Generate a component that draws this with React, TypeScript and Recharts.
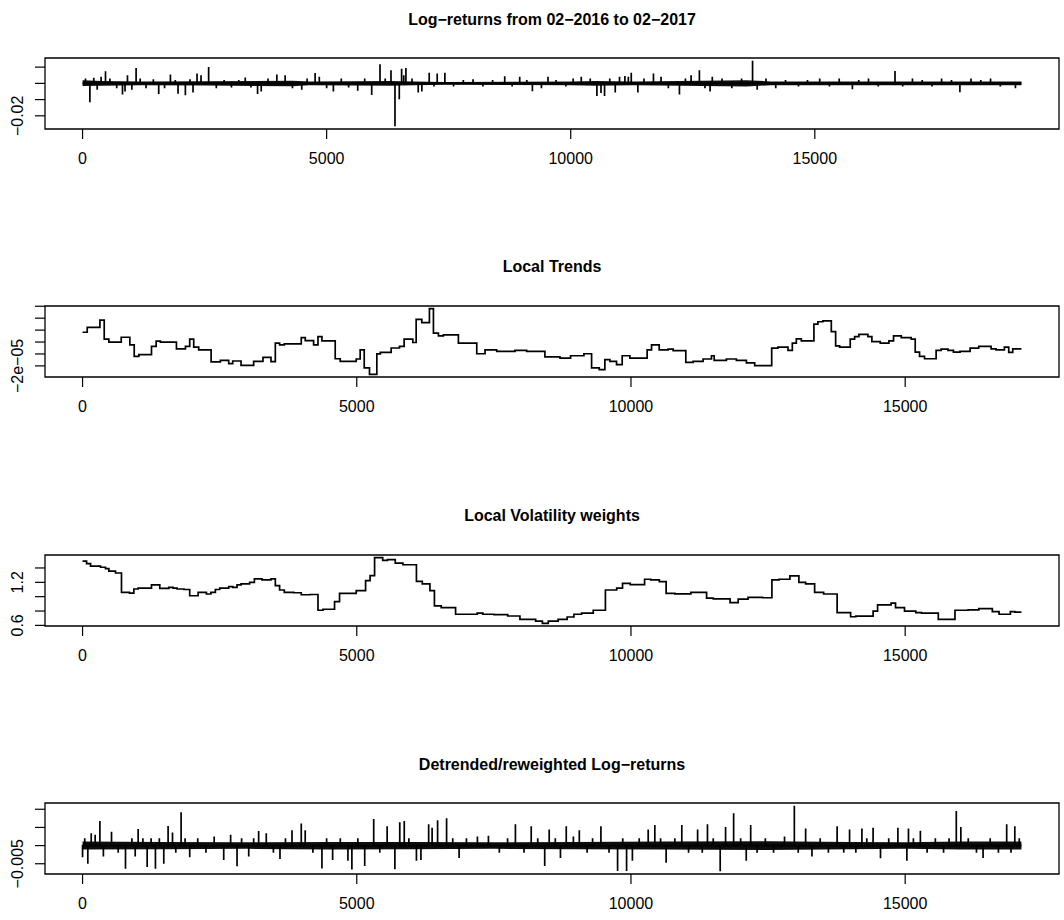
import React from 'react';
import { ComposedChart, Line, Area, XAxis, YAxis, ReferenceArea } from 'recharts';

// ---------------- data ----------------
const xTicks = [0, 5000, 10000, 15000];
const nReturns = 19233;
const nLocal = 17120;

const titles = [
  'Log\u2212returns from 02\u22122016 to 02\u22122017',
  'Local Trends',
  'Local Volatility weights',
  'Detrended/reweighted Log\u2212returns',
];

// Panel 1: log-returns, spikes
const retSpikeX = [60, 150, 230, 300, 380, 470, 560, 700, 818, 870, 920, 1010, 1097, 1180, 1300, 1450, 1560, 1680, 1800, 1900, 1956, 2106, 2200, 2263, 2345, 2427, 2583, 2740, 2900, 3050, 3200, 3333, 3450, 3585, 3660, 3800, 3980, 4150, 4300, 4490, 4600, 4764, 4850, 5000, 5138, 5300, 5450, 5637, 5780, 5923, 6093, 6200, 6318, 6400, 6488, 6536, 6580, 6624, 6750, 6876, 6950, 7101, 7200, 7265, 7422, 7600, 7800, 8000, 8200, 8400, 8648, 8800, 8955, 9100, 9215, 9400, 9534, 9700, 9900, 10050, 10216, 10400, 10536, 10620, 10693, 10800, 10912, 11000, 11110, 11180, 11240, 11375, 11500, 11695, 11850, 12000, 12227, 12350, 12466, 12636, 12750, 12855, 12900, 13100, 13300, 13500, 13725, 13820, 14000, 14200, 14400, 14666, 14850, 15100, 15300, 15500, 15770, 15900, 16100, 16300, 16643, 16800, 17000, 17200, 17400, 17597, 17800, 17972, 18200, 18400, 18600, 18800, 19110];
const retSpikeY = [0.003, -0.0117, 0.0035, -0.004, 0.004, 0.0074, 0.003, -0.003, -0.0068, -0.005, 0.005, -0.004, 0.0095, 0.003, -0.003, 0.0025, -0.0066, -0.003, 0.0054, 0.002, -0.0064, -0.0074, 0.0025, -0.0056, 0.006, 0.005, 0.01, -0.003, 0.002, -0.0025, 0.002, 0.0036, -0.0025, -0.0066, -0.005, 0.003, 0.0054, 0.005, -0.003, -0.004, 0.003, 0.0064, 0.004, -0.003, -0.005, 0.003, -0.0025, -0.0045, 0.003, -0.0072, 0.0117, 0.003, 0.008, -0.0265, -0.0098, 0.009, 0.005, 0.0095, 0.003, -0.0057, -0.005, 0.0066, -0.002, 0.006, 0.0066, -0.002, 0.002, 0.0025, -0.002, 0.002, 0.0044, -0.002, 0.004, 0.002, -0.0048, -0.003, 0.004, 0.002, -0.002, 0.003, 0.004, 0.003, -0.0078, -0.006, -0.0078, 0.003, -0.0056, 0.004, 0.0045, 0.004, 0.0066, -0.0057, 0.003, 0.006, 0.004, -0.003, -0.0068, 0.003, 0.005, 0.008, -0.003, -0.005, 0.004, 0.003, -0.003, 0.003, 0.014, -0.004, 0.003, -0.003, 0.002, -0.002, 0.002, 0.003, -0.002, 0.003, -0.0037, 0.002, 0.003, -0.002, 0.0076, -0.002, 0.003, 0.002, -0.002, 0.003, 0.002, -0.0055, 0.003, 0.002, 0.003, -0.002, -0.003];
const retBandX = [0, 400, 1200, 2500, 4300, 4650, 6300, 6800, 7400, 10000, 10500, 11300, 13600, 14100, 16500];
const retBandLo = [-0.0016, -0.0014, -0.0012, -0.0013, -0.0018, -0.0012, -0.0015, -0.0012, -0.0009, -0.0012, -0.0014, -0.0012, -0.0019, -0.0012, -0.0011];
const retBandHi = [0.0019, 0.0014, 0.0012, 0.0013, 0.0016, 0.0012, 0.0015, 0.0012, 0.0009, 0.0012, 0.0014, 0.0012, 0.0019, 0.0012, 0.0011];
const retTicks = [-0.02, -0.01, 0, 0.01];
const retTickLabels = ['\u22120.02', '', '', ''];

// Panel 2: local trends (step levels)
const trendX = [0, 85, 316, 395, 480, 705, 862, 942, 1026, 1257, 1342, 1420, 1712, 1876, 1954, 2027, 2118, 2344, 2513, 2665, 2738, 2890, 3120, 3290, 3436, 3515, 3593, 3679, 3988, 4061, 4213, 4293, 4365, 4607, 4698, 4990, 5062, 5136, 5232, 5366, 5430, 5627, 5779, 5864, 6022, 6083, 6186, 6325, 6398, 6489, 6580, 6853, 7188, 7339, 7552, 7885, 8098, 8431, 8705, 8899, 9142, 9282, 9421, 9524, 9616, 9737, 9840, 9980, 10295, 10375, 10514, 10678, 10769, 11000, 11133, 11315, 11468, 11517, 11740, 11922, 12105, 12256, 12566, 12680, 12863, 12942, 13015, 13106, 13336, 13409, 13500, 13653, 13732, 13804, 13998, 14078, 14156, 14320, 14393, 14546, 14703, 14788, 14928, 15110, 15183, 15262, 15353, 15564, 15656, 15780, 15880, 16000, 16184, 16341, 16567, 16658, 16809, 16888, 16961];
const trendY = [0.82e-5, 1.23e-5, 1.84e-5, 0.24e-5, 0.0, 0.4e-5, -0.23e-5, -1.2e-5, -1.06e-5, -0.37e-5, 0.07e-5, 0.0, -0.57e-5, -0.37e-5, 0.24e-5, -0.43e-5, -0.65e-5, -1.67e-5, -1.54e-5, -1.81e-5, -1.59e-5, -1.95e-5, -1.62e-5, -1.29e-5, -1.64e-5, -0.09e-5, -0.23e-5, -0.15e-5, 0.37e-5, 0.12e-5, -0.23e-5, 0.45e-5, 0.1e-5, -1.4e-5, -1.62e-5, -1.42e-5, -0.65e-5, -2.17e-5, -2.71e-5, -1.0e-5, -0.87e-5, -0.5e-5, -0.37e-5, 0.24e-5, -0.04e-5, 1.9e-5, 1.62e-5, 2.8e-5, 0.74e-5, 0.51e-5, 0.6e-5, -0.09e-5, -0.98e-5, -0.65e-5, -0.79e-5, -0.7e-5, -0.79e-5, -1.25e-5, -1.34e-5, -1.15e-5, -0.98e-5, -2.17e-5, -2.31e-5, -1.48e-5, -1.62e-5, -1.9e-5, -1.15e-5, -1.34e-5, -0.65e-5, -0.23e-5, -0.65e-5, -0.59e-5, -0.72e-5, -1.7e-5, -1.62e-5, -1.42e-5, -1.15e-5, -1.53e-5, -1.42e-5, -1.53e-5, -1.75e-5, -1.98e-5, -0.51e-5, -0.43e-5, -0.7e-5, -0.09e-5, 0.26e-5, 0.1e-5, 1.5e-5, 1.7e-5, 1.78e-5, 0.87e-5, -0.32e-5, -0.43e-5, 0.24e-5, 0.45e-5, 0.65e-5, 0.45e-5, 0.04e-5, -0.09e-5, 0.1e-5, 0.51e-5, 0.37e-5, 0.24e-5, -0.84e-5, -1.2e-5, -1.4e-5, -0.7e-5, -0.59e-5, -0.7e-5, -0.84e-5, -0.78e-5, -0.51e-5, -0.37e-5, -0.57e-5, -0.65e-5, -0.43e-5, -0.87e-5, -0.57e-5];
const trendTicks = [-2e-5, -1e-5, 0, 1e-5, 2e-5, 3e-5];
const trendTickLabels = ['\u22122e\u221205', '', '', '', '', ''];

// Panel 3: local volatility weights (step levels)
const volX = [0, 73, 146, 328, 419, 480, 601, 710, 856, 935, 1014, 1257, 1408, 1572, 1650, 1724, 1850, 1954, 2107, 2258, 2340, 2422, 2501, 2665, 2740, 2817, 2890, 3047, 3133, 3272, 3436, 3515, 3593, 3679, 3850, 3988, 4150, 4293, 4384, 4595, 4686, 4990, 5161, 5243, 5325, 5473, 5560, 5702, 5842, 6088, 6195, 6334, 6416, 6540, 6802, 7196, 7300, 7500, 7752, 7975, 8262, 8385, 8492, 8672, 8836, 8960, 9100, 9312, 9534, 9740, 9846, 9986, 10248, 10360, 10517, 10641, 10800, 11093, 11379, 11500, 11807, 11955, 12135, 12400, 12570, 12700, 12898, 13062, 13185, 13349, 13513, 13759, 14005, 14100, 14415, 14497, 14743, 14824, 14988, 15194, 15300, 15604, 15908, 16150, 16343, 16589, 16712, 16918, 17000];
const volY = [1.496, 1.46, 1.425, 1.41, 1.39, 1.355, 1.33, 1.06, 1.05, 1.107, 1.12, 1.163, 1.115, 1.13, 1.12, 1.107, 1.1, 1.013, 1.06, 1.037, 1.06, 1.1, 1.12, 1.14, 1.13, 1.163, 1.177, 1.2, 1.248, 1.234, 1.248, 1.153, 1.093, 1.06, 1.055, 1.027, 1.03, 0.811, 0.825, 0.932, 1.045, 1.083, 1.224, 1.294, 1.544, 1.506, 1.515, 1.468, 1.445, 1.214, 1.177, 1.083, 0.872, 0.848, 0.755, 0.77, 0.755, 0.75, 0.731, 0.684, 0.66, 0.628, 0.66, 0.684, 0.717, 0.755, 0.77, 0.811, 1.093, 1.12, 1.186, 1.167, 1.243, 1.234, 1.21, 1.045, 1.04, 1.06, 0.98, 0.97, 0.918, 0.966, 0.989, 0.985, 1.234, 1.243, 1.29, 1.2, 1.177, 1.06, 1.037, 0.777, 0.72, 0.73, 0.8, 0.886, 0.91, 0.848, 0.8, 0.777, 0.77, 0.684, 0.811, 0.815, 0.834, 0.792, 0.755, 0.792, 0.785];
const volTicks = [0.6, 0.8, 1.0, 1.2, 1.4];
const volTickLabels = ['0.6', '', '', '1.2', ''];

// Panel 4: detrended / reweighted log-returns
const detSpikeX = [0, 40, 96, 158, 230, 316, 380, 528, 650, 783, 900, 960, 1014, 1100, 1178, 1250, 1329, 1400, 1481, 1560, 1640, 1700, 1797, 1870, 1954, 2100, 2250, 2400, 2574, 2700, 2817, 2900, 3030, 3120, 3211, 3350, 3480, 3600, 3700, 3819, 3988, 4060, 4200, 4365, 4450, 4560, 4700, 4839, 4911, 5020, 5145, 5309, 5420, 5554, 5695, 5784, 5866, 5950, 6088, 6170, 6311, 6374, 6474, 6638, 6750, 6866, 7000, 7200, 7401, 7600, 7750, 7893, 8050, 8181, 8300, 8427, 8509, 8620, 8714, 8820, 8950, 9058, 9200, 9300, 9452, 9600, 9756, 9850, 9920, 10026, 10150, 10314, 10435, 10540, 10641, 10800, 10927, 11050, 11215, 11300, 11395, 11500, 11627, 11725, 11872, 12000, 12102, 12183, 12300, 12450, 12600, 12800, 12979, 13050, 13185, 13300, 13450, 13600, 13759, 13880, 13986, 14100, 14211, 14300, 14415, 14550, 14700, 14867, 15031, 15060, 15150, 15277, 15400, 15550, 15700, 15800, 15932, 16015, 16150, 16300, 16420, 16550, 16700, 16851, 16930, 16999, 17080];
const detSpikeY = [-0.0032, 0.002, -0.005, 0.0034, 0.003, 0.0068, -0.003, 0.0038, -0.002, -0.0064, 0.002, -0.003, 0.0046, 0.002, -0.0059, 0.002, -0.0064, 0.002, -0.005, 0.0054, 0.0036, -0.002, 0.0092, 0.002, -0.0032, 0.002, -0.002, 0.0025, -0.004, 0.003, -0.0057, 0.002, -0.003, 0.002, 0.004, 0.0034, -0.002, -0.0037, 0.002, 0.0042, 0.0061, 0.0042, -0.002, -0.0063, 0.002, -0.004, 0.002, -0.0042, -0.0066, 0.002, -0.0056, 0.0073, -0.002, 0.0053, -0.0065, 0.0064, 0.0068, 0.002, -0.0042, -0.004, 0.0059, 0.0049, 0.007, 0.0075, 0.002, -0.0034, 0.002, 0.0025, 0.0027, -0.002, 0.002, 0.0059, -0.002, 0.0053, 0.002, -0.0056, 0.0044, 0.002, -0.0034, 0.0053, 0.0025, 0.0042, -0.002, 0.002, 0.0053, -0.002, -0.007, 0.002, -0.007, -0.0042, 0.002, 0.0044, 0.0057, 0.002, -0.0047, 0.002, 0.0057, -0.002, 0.0044, -0.002, 0.0059, 0.002, -0.0071, 0.0051, 0.0089, 0.002, -0.0042, 0.0057, -0.002, 0.002, -0.002, 0.0025, 0.011, -0.002, 0.0047, -0.003, 0.002, -0.002, 0.0053, -0.002, 0.0044, -0.002, 0.0047, 0.002, 0.0049, -0.0035, 0.002, 0.0049, -0.0042, 0.0047, 0.002, 0.0041, -0.002, 0.002, -0.002, 0.002, 0.0095, 0.0051, 0.002, -0.002, -0.0034, 0.002, -0.002, 0.0059, -0.002, 0.0053, 0.002];
const detBandX = [0, 1500, 3000, 4500, 6000, 7500, 9000, 10500, 12500, 14000, 15000, 16000];
const detBandLo = [-0.0011, -0.001, -0.0009, -0.0011, -0.001, -0.0009, -0.001, -0.0011, -0.0012, -0.001, -0.0009, -0.0011];
const detBandHi = [0.0011, 0.001, 0.0009, 0.001, 0.001, 0.0009, 0.001, 0.0011, 0.0012, 0.001, 0.0009, 0.0011];
const detTicks = [-0.005, 0, 0.005, 0.01];
const detTickLabels = ['\u22120.005', '', '', ''];

// ---------------- helpers ----------------
const spikeRows = (xs: number[], ys: number[], n: number) => {
  const rows: { x: number; y: number }[] = [{ x: 0, y: 0 }];
  xs.forEach((x, i) => {
    rows.push({ x, y: 0 }, { x, y: ys[i] }, { x, y: 0 });
  });
  rows.push({ x: n, y: 0 });
  return rows;
};
const stepRows = (xs: number[], ys: number[], n: number) => {
  const rows = xs.map((x, i) => ({ x, y: ys[i] }));
  rows.push({ x: n, y: ys[ys.length - 1] });
  return rows;
};
const bandRows = (xs: number[], lo: number[], hi: number[], n: number) => {
  const rows = xs.map((x, i) => ({ x, band: [lo[i], hi[i]] }));
  rows.push({ x: n, band: [lo[lo.length - 1], hi[hi.length - 1]] });
  return rows;
};
const pad = (min: number, max: number): [number, number] => {
  const r = max - min;
  return [min - 0.04 * r, max + 0.04 * r];
};

const boxTops = [58.3, 305.7, 555, 803.3];
const BOX_H = 71;
const M_TOP = 12;
const FONT = '"Liberation Sans", Arial, Helvetica, sans-serif';

const makeYTick = (ticks: number[], labels: string[]) => (props: any) => {
  const { y, payload } = props;
  const i = ticks.findIndex((t) => Math.abs(t - payload.value) < 1e-12);
  const label = i >= 0 ? labels[i] : '';
  if (!label) return <g />;
  return (
    <text x={23.5} y={y} transform={`rotate(-90 23.5 ${y})`} textAnchor="middle" fontSize={16} fill="#000" fontFamily={FONT}>
      {label}
    </text>
  );
};

type PanelProps = {
  idx: number;
  xDomain: [number, number];
  yDomain: [number, number];
  yTicks: number[];
  yLabels: string[];
  children: React.ReactNode;
};

function Panel({ idx, xDomain, yDomain, yTicks, yLabels, children }: PanelProps) {
  const boxTop = boxTops[idx];
  return (
    <>
      <div
        style={{
          position: 'absolute',
          left: 252,
          width: 600,
          top: boxTop - 46.8,
          textAlign: 'center',
          fontWeight: 'bold',
          fontSize: 16,
          lineHeight: '16px',
          fontFamily: FONT,
          color: '#000',
        }}
      >
        {titles[idx]}
      </div>
      <div style={{ position: 'absolute', left: 0, top: boxTop - M_TOP }}>
        <ComposedChart width={1064} height={M_TOP + BOX_H + 45} margin={{ top: M_TOP, right: 5, bottom: 0, left: 5 }}>
          <XAxis
            type="number"
            dataKey="x"
            domain={xDomain}
            ticks={xTicks}
            interval={0}
            allowDataOverflow
            height={45}
            tickSize={10}
            tickMargin={14}
            axisLine={false}
            tickLine={{ stroke: '#000', strokeWidth: 1.2 }}
            tick={{ fill: '#000', fontSize: 16, fontFamily: FONT }}
          />
          <YAxis
            type="number"
            domain={yDomain}
            ticks={yTicks}
            interval={0}
            allowDataOverflow
            width={40}
            tickSize={10}
            axisLine={false}
            tickLine={{ stroke: '#000', strokeWidth: 1.2 }}
            tick={makeYTick(yTicks, yLabels)}
          />
          {children}
          <ReferenceArea
            x1={xDomain[0]}
            x2={xDomain[1]}
            y1={yDomain[0]}
            y2={yDomain[1]}
            fill="none"
            fillOpacity={0}
            stroke="#000"
            strokeWidth={1.3}
            ifOverflow="visible"
          />
        </ComposedChart>
      </div>
    </>
  );
}

export default function App() {
  const retSpikes = spikeRows(retSpikeX, retSpikeY, nReturns);
  const retBand = bandRows(retBandX, retBandLo, retBandHi, nReturns);
  const retY = pad(Math.min(...retSpikeY, ...retBandLo), Math.max(...retSpikeY, ...retBandHi));

  const trend = stepRows(trendX, trendY, nLocal);
  const trendDom = pad(Math.min(...trendY), Math.max(...trendY));

  const vol = stepRows(volX, volY, nLocal);
  const volDom = pad(Math.min(...volY), Math.max(...volY));

  const detSpikes = spikeRows(detSpikeX, detSpikeY, nLocal);
  const detBand = bandRows(detBandX, detBandLo, detBandHi, nLocal);
  const detY = pad(Math.min(...detSpikeY, ...detBandLo), Math.max(...detSpikeY, ...detBandHi));

  const xRet = pad(0, nReturns);
  const xLocal = pad(0, nLocal);

  return (
    <div style={{ position: 'relative', width: 1064, height: 920, background: '#fff', fontFamily: FONT }}>
      <style>{'body{margin:0;}'}</style>
      <Panel idx={0} xDomain={xRet} yDomain={retY} yTicks={retTicks} yLabels={retTickLabels}>
        <Area data={retBand} dataKey="band" type="linear" fill="#000" fillOpacity={0.95} stroke="none" isAnimationActive={false} dot={false} activeDot={false} />
        <Line data={retSpikes} dataKey="y" type="linear" stroke="#000" strokeWidth={1.7} dot={false} activeDot={false} isAnimationActive={false} />
      </Panel>
      <Panel idx={1} xDomain={xLocal} yDomain={trendDom} yTicks={trendTicks} yLabels={trendTickLabels}>
        <Line data={trend} dataKey="y" type="stepAfter" stroke="#000" strokeWidth={1.7} dot={false} activeDot={false} isAnimationActive={false} />
      </Panel>
      <Panel idx={2} xDomain={xLocal} yDomain={volDom} yTicks={volTicks} yLabels={volTickLabels}>
        <Line data={vol} dataKey="y" type="stepAfter" stroke="#000" strokeWidth={1.7} dot={false} activeDot={false} isAnimationActive={false} />
      </Panel>
      <Panel idx={3} xDomain={xLocal} yDomain={detY} yTicks={detTicks} yLabels={detTickLabels}>
        <Area data={detBand} dataKey="band" type="linear" fill="#000" fillOpacity={0.95} stroke="none" isAnimationActive={false} dot={false} activeDot={false} />
        <Line data={detSpikes} dataKey="y" type="linear" stroke="#000" strokeWidth={1.7} dot={false} activeDot={false} isAnimationActive={false} />
      </Panel>
    </div>
  );
}
